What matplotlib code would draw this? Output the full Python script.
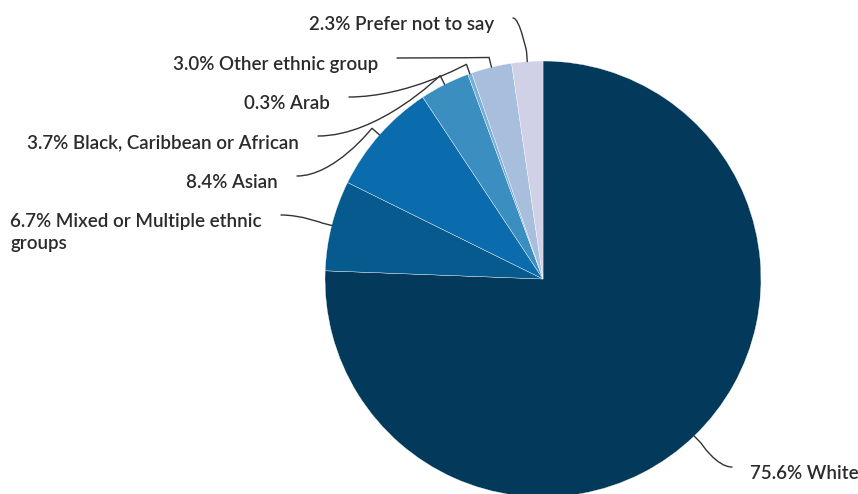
import numpy as np
import matplotlib
matplotlib.use('Agg')
import matplotlib.pyplot as plt
from matplotlib.path import Path
from matplotlib.patches import PathPatch

# data, clockwise from 12 o'clock
categories = ['White', 'Mixed or Multiple ethnic\ngroups', 'Asian',
              'Black, Caribbean or African', 'Arab', 'Other ethnic group',
              'Prefer not to say']
shares = [75.6, 6.7, 8.4, 3.7, 0.3, 3.0, 2.3]
colors = ['#033a5b', '#065a8e', '#0a6cad', '#3a8fc0', '#78aed8', '#a7bfdd', '#d0d0e6']

# label layout in pixels (y from top): text edge x, first-line centre y, side, text nudge
label_layout = [(750, 472, 'left', 0), (262, 220, 'right', 8), (278, 181, 'right', 0),
                (299, 141, 'right', 0), (330, 102, 'right', 0), (378, 63, 'right', 0),
                (494, 23, 'right', 0)]

W, H = 858, 494
cx, cy, r = 543, 279, 218

plt.rcParams['font.family'] = ['Lato', 'DejaVu Sans']

fig = plt.figure(figsize=(W / 100, H / 100), dpi=100)
ax = fig.add_axes([0, 0, 1, 1])


def flip(x, y):
    return x, H - y


wedges, _ = ax.pie(shares, colors=colors, startangle=90, counterclock=False,
                   center=flip(cx, cy), radius=r,
                   wedgeprops=dict(edgecolor='white', linewidth=0.25))
# pie() resets the limits, so set them afterwards
ax.set_xlim(0, W)
ax.set_ylim(0, H)
ax.set_aspect('equal')
ax.axis('off')

for w, cat, val, (lx, ly, side, dy) in zip(wedges, categories, shares, label_layout):
    mid = np.deg2rad((w.theta1 + w.theta2) / 2)
    # touching point on the rim and break point slightly outside
    tx, ty = cx + r * np.cos(mid), cy - r * np.sin(mid)
    bx, by = cx + (r + 10) * np.cos(mid), cy - (r + 10) * np.sin(mid)
    if side == 'right':
        sx = lx + 19
    else:
        sx = lx - 18
    sy = ly - 5
    verts = [flip(sx, sy), flip((sx + bx) / 2, sy), flip(bx, by), flip(bx, by), flip(tx, ty)]
    codes = [Path.MOVETO, Path.CURVE4, Path.CURVE4, Path.CURVE4, Path.LINETO]
    ax.add_patch(PathPatch(Path(verts, codes), facecolor='none', edgecolor='#333333',
                           linewidth=1.0, capstyle='round'))

    ax.text(*flip(lx, ly + dy), f'{val:.1f}% {cat}', ha=side, va='center_baseline',
            multialignment='left', fontsize=13.5, fontweight='semibold',
            color='#2b2b2b', linespacing=1.42)

fig.savefig('out.png', dpi=100)
